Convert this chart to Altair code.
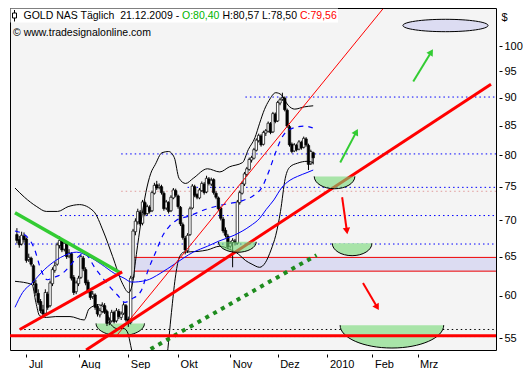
import math
import altair as alt
import pandas as pd

FONT = "Liberation Sans"
W, H = 486, 342
X_DOM = [-4.8, 196.0]
Y_DOM = [53.7, 108.1]
SX, SY = W / 502.0, H / 359.0

# ---------------- data ----------------
first_index = -4
opens = [68.0, 67.3, 66.7, 67.8, 67.4, 64.6, 64.8, 63.8, 61.5, 60.3,
         59.3, 58.3, 57.9, 60.2, 58.8, 61.5, 63.2, 64.0, 66.5, 67.1,
         66.0, 66.7, 65.1, 65.4, 62.3, 60.5, 61.5, 62.3, 64.8, 63.3,
         61.7, 60.6, 59.9, 60.1, 58.7, 57.7, 58.1, 58.8, 58.1, 56.8,
         57.0, 58.0, 57.0, 58.1, 57.4, 57.9, 58.8, 57.2, 56.8, 62.3,
         68.4, 69.8, 71.2, 69.6, 72.6, 71.0, 71.9, 71.4, 74.0, 75.3,
         74.9, 75.0, 74.0, 71.8, 72.6, 71.4, 73.3, 74.4, 73.6, 71.9,
         69.4, 67.5, 65.8, 68.0, 71.8, 75.0, 73.8, 73.3, 74.4, 75.4,
         74.2, 76.2, 75.4, 76.1, 74.0, 73.3, 71.8, 70.2, 68.6, 67.8,
         66.4, 66.9, 67.1, 66.8, 72.6, 74.0, 75.4, 76.9, 77.7, 79.2,
         79.5, 80.8, 82.4, 83.2, 81.8, 83.7, 84.0, 85.3, 83.9, 87.0,
         85.8, 89.0, 89.7, 89.9, 87.7, 84.8, 81.8, 80.7, 81.6, 81.0,
         82.1, 81.3, 82.7, 81.6, 78.6, 80.40]
highs = [68.9, 67.8, 68.4, 68.3, 67.6, 65.4, 65.0, 64.0, 62.0, 60.8,
         59.6, 58.9, 60.8, 60.5, 61.9, 63.6, 64.3, 66.9, 67.8, 67.4,
         67.1, 66.9, 66.0, 65.6, 62.6, 61.9, 62.5, 65.3, 65.1, 63.6,
         62.0, 60.9, 60.6, 60.3, 59.0, 58.5, 59.2, 59.1, 58.3, 57.4,
         58.3, 58.2, 58.5, 58.4, 58.1, 59.2, 59.0, 57.5, 62.5, 68.8,
         70.3, 71.7, 71.5, 73.0, 72.9, 72.3, 72.2, 74.4, 75.6, 75.9,
         75.5, 75.3, 74.3, 73.0, 72.8, 73.7, 74.8, 74.7, 73.8, 72.1,
         69.7, 67.8, 68.2, 72.0, 75.4, 75.3, 74.0, 74.8, 75.8, 75.7,
         76.7, 76.5, 76.4, 76.3, 74.3, 73.5, 72.0, 70.5, 69.0, 68.1,
         67.1, 67.5, 67.4, 73.0, 74.4, 75.8, 77.3, 78.1, 79.6, 79.9,
         81.2, 82.8, 83.6, 83.5, 84.1, 84.4, 85.7, 85.6, 87.4, 87.3,
         89.4, 90.0, 90.9, 90.2, 88.0, 85.1, 82.1, 82.0, 81.9, 82.5,
         82.4, 83.1, 83.0, 81.9, 80.9, 80.57]
lows = [66.8, 66.2, 66.5, 66.9, 64.2, 64.3, 63.7, 61.3, 60.0, 58.9,
        57.9, 57.4, 57.7, 58.3, 58.6, 61.2, 62.9, 63.8, 66.1, 65.6,
        65.7, 64.7, 64.8, 61.9, 60.1, 60.2, 61.2, 62.1, 63.1, 61.3,
        60.3, 59.5, 59.6, 58.3, 57.5, 57.4, 57.9, 57.8, 56.4, 56.5,
        56.8, 56.7, 56.8, 57.2, 57.1, 57.7, 56.9, 56.3, 56.6, 62.0,
        67.9, 69.4, 69.2, 69.3, 70.6, 70.7, 71.0, 71.2, 73.8, 74.5,
        74.6, 73.8, 71.4, 71.5, 71.0, 71.2, 73.1, 73.4, 71.7, 69.2,
        67.3, 65.3, 65.5, 67.8, 71.6, 73.4, 73.1, 73.1, 74.2, 73.8,
        74.0, 75.2, 75.1, 73.8, 73.1, 71.4, 70.0, 68.2, 67.6, 66.0,
        66.1, 63.6, 66.5, 66.6, 72.3, 73.8, 75.1, 76.6, 77.5, 78.8,
        79.3, 80.6, 82.1, 81.4, 81.6, 83.2, 83.8, 83.5, 83.7, 85.4,
        85.6, 88.6, 89.4, 87.5, 84.6, 81.4, 80.3, 80.5, 80.6, 80.8,
        80.9, 81.1, 81.4, 77.6, 78.4, 78.50]
closes = [67.2, 66.6, 67.9, 67.3, 64.5, 64.9, 64.0, 61.6, 60.4, 59.2,
          58.2, 57.8, 60.4, 58.6, 61.6, 63.3, 63.8, 66.6, 67.2, 65.9,
          66.8, 65.0, 65.5, 62.2, 60.4, 61.6, 62.2, 65.0, 63.4, 61.6,
          60.6, 59.8, 60.2, 58.6, 57.8, 58.2, 58.9, 58.0, 56.7, 57.1,
          58.0, 56.9, 58.2, 57.5, 57.8, 58.9, 57.1, 56.7, 62.2, 68.5,
          69.9, 71.3, 69.5, 72.7, 70.9, 72.0, 71.3, 74.1, 75.2, 74.8,
          75.1, 74.1, 71.7, 72.7, 71.3, 73.4, 74.5, 73.7, 72.0, 69.5,
          67.6, 65.9, 67.9, 71.7, 75.1, 73.7, 73.4, 74.5, 75.5, 74.1,
          76.3, 75.5, 76.0, 74.1, 73.4, 71.7, 70.3, 68.5, 67.9, 66.3,
          66.8, 67.2, 66.9, 72.7, 74.1, 75.5, 77.0, 77.8, 79.3, 79.6,
          80.9, 82.5, 83.3, 81.7, 83.8, 84.1, 85.4, 83.8, 87.1, 85.7,
          89.1, 89.6, 90.0, 87.8, 84.9, 81.7, 80.6, 81.7, 80.9, 82.2,
          81.2, 82.8, 81.7, 78.5, 80.6, 79.56]

# Bollinger bands and moving averages (bar index, price)
bbu_i = [-4.8, -0.8, 4.4, 8.4, 13.2, 17.6, 22.4, 28.4, 32.4, 36.4, 40.4, 43.2, 44.8,
         46.4, 48.4, 50.4, 52.4, 54.4, 57.2, 60.0, 62.4, 64.4, 67.2, 70.4, 76.4, 81.6,
         85.6, 91.2, 93.6, 96.4, 98.4, 100.4, 102.4, 105.2, 107.6, 110.4, 113.2, 117.2, 121.0]
bbu_v = [74.8, 73.4, 72.0, 71.3, 71.3, 72.0, 72.3, 71.3, 68.5, 65.0, 61.6, 60.4, 61.6,
         65.3, 69.9, 74.1, 77.0, 78.5, 80.4, 80.6, 79.6, 76.3, 75.5, 76.3, 77.8, 77.3,
         78.1, 78.8, 80.9, 82.9, 85.4, 87.8, 89.5, 90.9, 90.5, 88.6, 87.9, 88.3, 88.5]
bbl_i = [-4.8, 2.4, 4.0, 5.6, 8.4, 12.4, 18.4, 24.4, 26.4, 30.4, 33.2, 35.6, 38.4, 41.2,
         42.8, 44.0, 45.6, 48.4, 52.4, 56.4, 59.2, 61.2, 62.8, 64.4, 66.4, 72.4, 76.4,
         81.6, 85.6, 89.6, 92.4, 95.2, 98.4, 100.8, 103.2, 105.2, 107.2, 109.2, 111.2,
         114.4, 118.4, 121.0]
bbl_v = [61.8, 61.4, 59.2, 57.6, 57.4, 57.5, 57.5, 57.1, 58.4, 58.9, 58.5, 56.6, 56.1, 56.1,
         55.6, 54.2, 52.2, 49.2, 47.8, 49.2, 52.7, 58.0, 62.2, 64.8, 65.6, 65.7, 65.9,
         66.4, 66.0, 65.3, 64.5, 64.0, 63.6, 64.2, 65.9, 67.9, 71.3, 76.3, 78.1,
         78.7, 79.0, 78.8]
ma20_i = [-4.8, -0.4, 3.2, 6.4, 8.8, 11.6, 15.2, 18.4, 21.2, 24.4, 29.2, 34.4, 38.4, 41.6,
          44.4, 48.4, 51.2, 54.4, 57.6, 60.4, 63.2, 68.4, 76.4, 84.4, 91.2, 96.4, 99.2,
          102.4, 105.2, 107.6, 111.6, 117.2, 120.8]
ma20_v = [68.5, 67.9, 66.2, 63.1, 62.0, 62.3, 62.8, 63.8, 64.8, 65.4, 63.4, 61.4, 60.1, 59.2,
          59.6, 60.6, 63.1, 65.5, 67.9, 69.2, 70.0, 70.6, 71.7, 72.4, 72.9, 73.8, 74.8,
          77.5, 80.5, 82.8, 84.4, 84.9, 84.6]
ma50_i = [-4.8, -1.6, 2.4, 7.6, 12.4, 16.4, 21.2, 26.4, 31.6, 37.2, 41.2, 44.4, 50.4, 56.4,
          62.4, 70.4, 76.4, 81.2, 87.6, 94.4, 98.4, 101.2, 104.4, 107.6, 111.2, 114.4,
          118.4, 121.0]
ma50_v = [58.6, 60.4, 61.6, 63.3, 64.5, 65.2, 65.6, 65.0, 64.0, 62.8, 62.2, 61.7, 61.9, 62.8,
          64.0, 65.6, 66.4, 67.1, 67.9, 69.2, 70.3, 71.6, 73.0, 74.8, 76.0, 76.6,
          77.2, 77.6]

# trend lines: [(i0, p0), (i1, p1)]
trend_main = [(25.2, 53.7), (196.0, 92.5)]
trend_short = [(-2.8, 56.0), (40.4, 63.0)]
trend_thin = [(38.4, 55.4), (150.4, 107.9)]
trend_green = [(-4.8, 71.1), (39.6, 62.9)]
trend_green_dots = [(52.4, 53.8), (122.4, 65.2)]

# horizontal levels
blue_lvls = [90.1, 80.2, 74.9, 70.7, 66.7, 55.2]
blue_lvl_from = [92.4, 40.0, 68.0, 14.4, -4.8, -4.8]
pink_lvl, pink_from = 74.3, 40.0
black_lvl, black_from = 56.0, -2.8
red_lvl = 55.3
band_lo, band_hi, band_from = 63.1, 64.9, 45.2

# target zones (centre of flat top edge)
zone_i = [39.6, 89.0, 130.0, 137.4, 154.2]
zone_p = [56.7, 67.0, 76.6, 66.8, 56.5]
goal_i, goal_p = 176.8, 104.3

# arrows (from, to)
arrows_up = [((132.4, 78.8), (139.2, 83.9)), ((163.2, 93.0), (170.8, 98.8))]
arrows_down = [((133.2, 73.4), (135.2, 68.5)), ((142.0, 61.6), (148.0, 58.6))]

month_pos = [0, 22, 43, 64, 86, 106, 127, 146, 165]
month_lbl = ["Jul", "Aug", "Sep", "Okt", "Nov", "Dez", "2010", "Feb", "Mrz"]
y_ticks = [55, 60, 65, 70, 75, 80, 85, 90, 95, 100]

# ---------------- scales / axes ----------------
XS = alt.Scale(domain=X_DOM, nice=False, zero=False)
YS = alt.Scale(type="log", domain=Y_DOM, nice=False, zero=False)
label_expr = " : ".join(f"datum.value == {p} ? '{l}'" for p, l in zip(month_pos, month_lbl)) + " : ''"
XAX = alt.Axis(values=month_pos, labelExpr=label_expr, labelAlign="left", labelOffset=2,
               labelPadding=1, tickSize=3, offset=4, domain=False, grid=False, title=None,
               labelFont=FONT, labelFontSize=11, labelColor="black", tickColor="black")
YAX = alt.Axis(orient="right", values=y_ticks, format="d", labelPadding=2, tickSize=3,
               offset=3, domain=False, grid=False, title="$", titleAngle=0, titleX=2,
               titleY=9, titleAlign="left", titleBaseline="middle", titleFont=FONT,
               titleFontSize=11, titleFontWeight="normal", labelFont=FONT, labelFontSize=11,
               labelColor="black", tickColor="black", labelBaseline="middle")


def ex(f):
    return alt.X(f"{f}:Q", scale=XS, axis=XAX)


def ey(f):
    return alt.Y(f"{f}:Q", scale=YS, axis=YAX)


def series(xs, ys, color, width, dash=None, interp="monotone"):
    kw = dict(color=color, strokeWidth=width, clip=True, interpolate=interp)
    if dash:
        kw["strokeDash"] = dash
    return alt.Chart(pd.DataFrame({"x": xs, "y": ys})).mark_line(**kw).encode(x=ex("x"), y=ey("y"))


def seg(pts, color, width, dash=None, cap="butt"):
    kw = dict(color=color, strokeWidth=width, clip=True, strokeCap=cap)
    if dash:
        kw["strokeDash"] = dash
    df = pd.DataFrame({"x": [p[0] for p in pts], "y": [p[1] for p in pts]})
    return alt.Chart(df).mark_line(**kw).encode(x=ex("x"), y=ey("y"))


def to_px(i, p):
    x = (i - X_DOM[0]) / (X_DOM[1] - X_DOM[0]) * W
    y = H - (math.log(p) - math.log(Y_DOM[0])) / (math.log(Y_DOM[1]) - math.log(Y_DOM[0])) * H
    return x, y


K = 0.5523


def half_ellipse(wpx, dpx):
    ry = 2.0 * dpx / wpx
    return (f"M-1,0 C-1,{K*ry:.4f} -{K},{ry:.4f} 0,{ry:.4f} "
            f"C{K},{ry:.4f} 1,{K*ry:.4f} 1,0")


def full_ellipse(wpx, hpx):
    ry = hpx / wpx
    return (f"M-1,0 C-1,{-K*ry:.4f} -{K},{-ry:.4f} 0,{-ry:.4f} "
            f"C{K},{-ry:.4f} 1,{-K*ry:.4f} 1,0 "
            f"C1,{K*ry:.4f} {K},{ry:.4f} 0,{ry:.4f} "
            f"C-{K},{ry:.4f} -1,{K*ry:.4f} -1,0 Z")


zone_w = [50, 39, 42, 41, 107]
zone_d = [13, 11, 13, 13, 24]


def zone(k, fill, fop):
    wpx, dpx = zone_w[k] * SX, zone_d[k] * SY
    df = pd.DataFrame({"x": [zone_i[k]], "y": [zone_p[k]]})
    return alt.Chart(df).mark_point(shape=half_ellipse(wpx, dpx), size=wpx * wpx, filled=True,
                                    fill=fill, fillOpacity=fop, stroke="black", strokeWidth=1,
                                    opacity=1, clip=True).encode(x=ex("x"), y=ey("y"))


# ---------------- layers ----------------
cdf = pd.DataFrame({"i": list(range(first_index, first_index + len(closes))),
                    "o": opens, "h": highs, "l": lows, "c": closes})

band = alt.Chart(pd.DataFrame({"x": [band_from], "lo": [band_lo], "hi": [band_hi]})).mark_rect(
    color="#dcdcf2").encode(x=ex("x"), x2=alt.value(W), y=ey("lo"), y2="hi")
band_lines = alt.Chart(pd.DataFrame({"x": [band_from, band_from], "v": [band_lo, band_hi]})).mark_rule(
    color="#ee0000", strokeWidth=1).encode(x=ex("x"), x2=alt.value(W), y=ey("v"))

blue_dots = alt.Chart(pd.DataFrame({"x": blue_lvl_from, "v": blue_lvls})).mark_rule(
    color="#0000ff", strokeWidth=1, strokeDash=[1.5, 3], clip=True).encode(
    x=ex("x"), x2=alt.value(W), y=ey("v"))
pink_dots = alt.Chart(pd.DataFrame({"x": [pink_from], "v": [pink_lvl]})).mark_rule(
    color="#e09a9a", strokeWidth=1, strokeDash=[1.5, 3], clip=True).encode(
    x=ex("x"), x2=alt.value(W), y=ey("v"))
black_dots = alt.Chart(pd.DataFrame({"x": [black_from], "v": [black_lvl]})).mark_rule(
    color="black", strokeWidth=1, strokeDash=[1.5, 3], clip=True).encode(
    x=ex("x"), x2=alt.value(W), y=ey("v"))
red_hline = alt.Chart(pd.DataFrame({"v": [red_lvl]})).mark_rule(
    color="#ff0000", strokeWidth=3).encode(x=alt.value(0), x2=alt.value(W), y=ey("v"))

wicks = alt.Chart(cdf).mark_rule(color="black", strokeWidth=1, clip=True).encode(
    x=ex("i"), y=ey("l"), y2="h")
bodies = alt.Chart(cdf).mark_bar(size=2.4, stroke="black", strokeWidth=0.7, clip=True).encode(
    x=ex("i"), y=ey("o"), y2="c",
    fill=alt.condition("datum.c >= datum.o", alt.value("white"), alt.value("black")))

bb_up = series(bbu_i, bbu_v, "black", 1)
bb_lo = series(bbl_i, bbl_v, "black", 1)
ma20 = series(ma20_i, ma20_v, "#0000ff", 1.2, dash=[5, 5])
ma50 = series(ma50_i, ma50_v, "#0000ff", 1)

t_main = seg(trend_main, "#ff0000", 3)
t_short = seg(trend_short, "#ff0000", 3)
t_thin = seg(trend_thin, "#ff0000", 1)
t_green = seg(trend_green, "#33cc33", 3.5)
t_gdots = seg(trend_green_dots, "#1e8c1e", 4, dash=[4, 5])


def arrow_layers(arrs, color):
    out = []
    rows = []
    for n, ((i0, p0), (i1, p1)) in enumerate(arrs):
        x0, y0 = to_px(i0, p0)
        x1, y1 = to_px(i1, p1)
        ang = math.degrees(math.atan2(x1 - x0, -(y1 - y0))) % 360
        rows.append({"x": i1, "y": p1, "a": ang})
        out.append(seg([(i0, p0), (i1, p1)], color, 2))
    heads = alt.Chart(pd.DataFrame(rows)).mark_point(
        shape="triangle-up", size=55, filled=True, color=color, opacity=1).encode(
        x=ex("x"), y=ey("y"), angle=alt.Angle("a:Q", scale=None))
    return out + [heads]


goal = alt.Chart(pd.DataFrame({"x": [goal_i], "y": [goal_p]})).mark_point(
    shape=full_ellipse(88 * SX, 13 * SY), size=(88 * SX) ** 2, filled=True, fill="#dcdcf2",
    stroke="black", strokeWidth=1, opacity=1).encode(x=ex("x"), y=ey("y"))


def txt(s, x, y, color, size=10.5):
    return alt.Chart(pd.DataFrame({"t": [s]})).mark_text(
        align="left", baseline="alphabetic", font=FONT, fontSize=size, color=color).encode(
        text="t:N", x=alt.value(x), y=alt.value(y))


hdr_box = alt.Chart(pd.DataFrame({"a": [0]})).mark_rect(color="white").encode(
    x=alt.value(0.5), x2=alt.value(328), y=alt.value(0.5), y2=alt.value(14.5))
icon_line = alt.Chart(pd.DataFrame({"a": [0]})).mark_rule(color="black", strokeWidth=1).encode(
    x=alt.value(4.5), y=alt.value(2), y2=alt.value(13.5))
icon_box = alt.Chart(pd.DataFrame({"a": [0]})).mark_rect(fill="white", stroke="black", strokeWidth=1).encode(
    x=alt.value(2.5), x2=alt.value(6.5), y=alt.value(5), y2=alt.value(10))

header = [
    txt("GOLD NAS Täglich\u00a0 21.12.2009 -", 13.5, 11, "black"),
    txt("O:80,40", 172, 11, "#00b400"),
    txt("H:80,57", 212.5, 11, "black"),
    txt("L:78,50", 252, 11, "black"),
    txt("C:79,56", 290, 11, "#ff0000"),
    txt("© www.tradesignalonline.com", 3, 28, "black"),
]

layers = [band, band_lines, blue_dots, pink_dots, black_dots,
          zone(0, "#a8e4a8", 1), zone(4, "#a8e4a8", 1),
          wicks, bodies, bb_up, bb_lo, ma20, ma50,
          t_thin, t_green, t_gdots, t_main, t_short, red_hline,
          zone(1, "#75d975", 0.6), zone(2, "#75d975", 0.6), zone(3, "#a8e4a8", 1)]
layers += arrow_layers(arrows_up, "#33cc33")
layers += arrow_layers(arrows_down, "#ff0000")
layers += [goal, hdr_box, icon_line, icon_box] + header

chart = alt.layer(*layers).properties(
    width=W, height=H, background="white",
    padding={"left": 0, "top": 0, "right": 0, "bottom": 0}
).configure_view(stroke="black", strokeWidth=1, fill="#f4f4f4")

chart.save("out.html", embed_options={"renderer": "svg", "actions": False})
